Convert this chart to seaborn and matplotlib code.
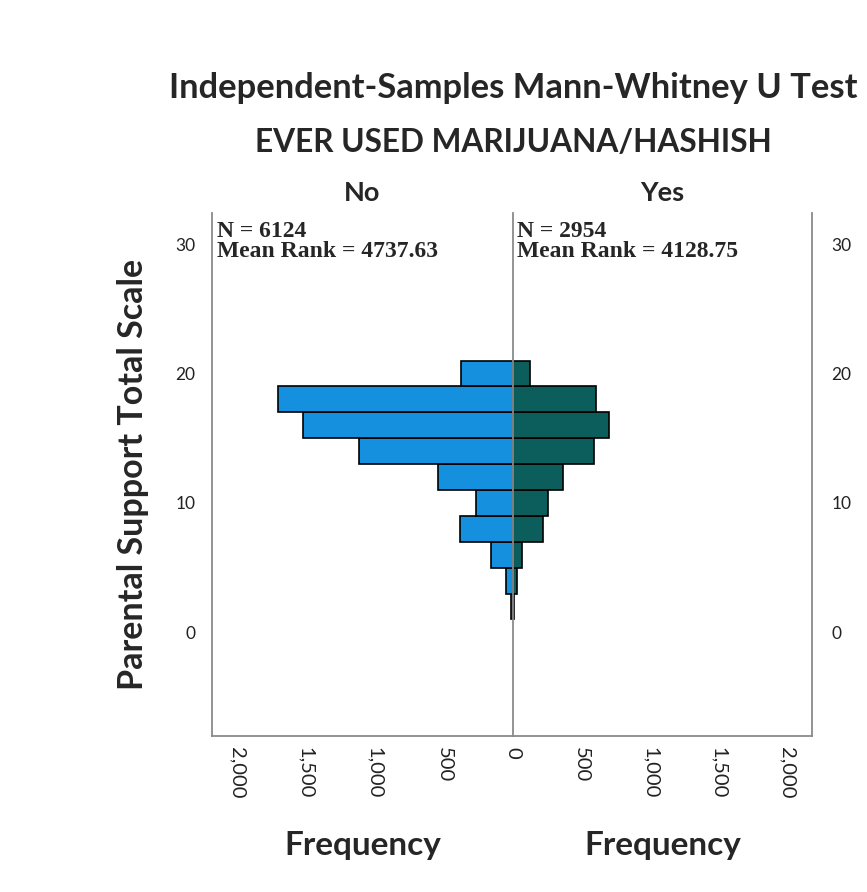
import matplotlib
matplotlib.use('Agg')
import matplotlib.pyplot as plt
import matplotlib.ticker as mticker
import seaborn as sns

# bins of the parental support scale and frequencies per group
bordes = [1, 3, 5, 7, 9, 11, 13, 15, 17, 19, 21]
frec_no = [14, 51, 159, 383, 265, 542, 1112, 1518, 1702, 378]
frec_si = [6, 26, 69, 217, 252, 366, 590, 700, 604, 126]
grupos = ['No', 'Yes']
n_grupos = [6124, 2954]
rango_medio = [4737.63, 4128.75]
ticks_y = [0, 10, 20, 30]

centros = [(a + b) / 2 for a, b in zip(bordes[:-1], bordes[1:])]

sns.set_style('white')
plt.rcParams['font.family'] = ['Lato', 'DejaVu Sans']

fig = plt.figure(figsize=(8.67, 8.92), dpi=100)
izq = fig.add_axes([212 / 867, 156 / 892, 301 / 867, 523 / 892])
der = fig.add_axes([513 / 867, 156 / 892, 299 / 867, 523 / 892])

gris = '#8a8a8a'
xmax = 2180

for ax, frec, color in [(izq, frec_no, '#1590df'), (der, frec_si, '#0b5e5b')]:
    sns.histplot(y=centros, weights=frec, bins=bordes, ax=ax, color=color,
                 edgecolor='black', linewidth=1.2, alpha=1)
    ax.set_ylim(-8, 32.4)
    ax.set_yticks(ticks_y)
    ax.set_ylabel('')
    ax.set_xlabel('Frequency', fontsize=24, fontweight='bold')
    ax.xaxis.label.set_va('center')
    ax.xaxis.set_label_coords(0.5, -109 / 523)
    ax.xaxis.set_major_formatter(mticker.FuncFormatter(lambda v, p: f'{int(v):,}'))
    ax.tick_params(length=0, labelsize=12.5, colors='#222222')
    ax.tick_params(axis='x', labelsize=14.5, pad=8)
    for s in ax.spines.values():
        s.set_color(gris)
        s.set_linewidth(1.3)
    ax.spines['top'].set_visible(False)

izq.set_xlim(xmax, 0)
izq.set_xticks([500, 1000, 1500, 2000])
izq.spines['right'].set_visible(False)
der.set_xlim(0, xmax)
der.set_xticks([0, 500, 1000, 1500, 2000])
der.yaxis.tick_right()
der.tick_params(axis='y', labelright=True, labelleft=False, pad=14)
izq.tick_params(axis='y', pad=12)
for ax in (izq, der):
    plt.setp(ax.get_xticklabels(), rotation=-90, va='top', ha='center')

izq.set_ylabel('Parental Support Total Scale', fontsize=24.5, fontweight='bold')
izq.yaxis.label.set_va('center')
izq.yaxis.set_label_coords((133 - 212) / 301, 0.5)

for ax, g, n, r in zip((izq, der), grupos, n_grupos, rango_medio):
    ax.text(0.015, 0.985, f'N = {n}\nMean Rank = {r:.2f}', transform=ax.transAxes,
            va='top', ha='left', fontsize=17, fontweight='bold',
            family='Liberation Serif', linespacing=0.95)
    ax.set_title(g, fontsize=19.5, fontweight='bold', pad=9)

fig.text(513 / 867, 1 - 88 / 892, 'Independent-Samples Mann-Whitney U Test',
         ha='center', va='center', fontsize=24.8, fontweight='bold')
fig.text(513 / 867, 1 - 142 / 892, 'EVER USED MARIJUANA/HASHISH',
         ha='center', va='center', fontsize=22.8, fontweight='bold')

fig.savefig('out.png', dpi=100)
